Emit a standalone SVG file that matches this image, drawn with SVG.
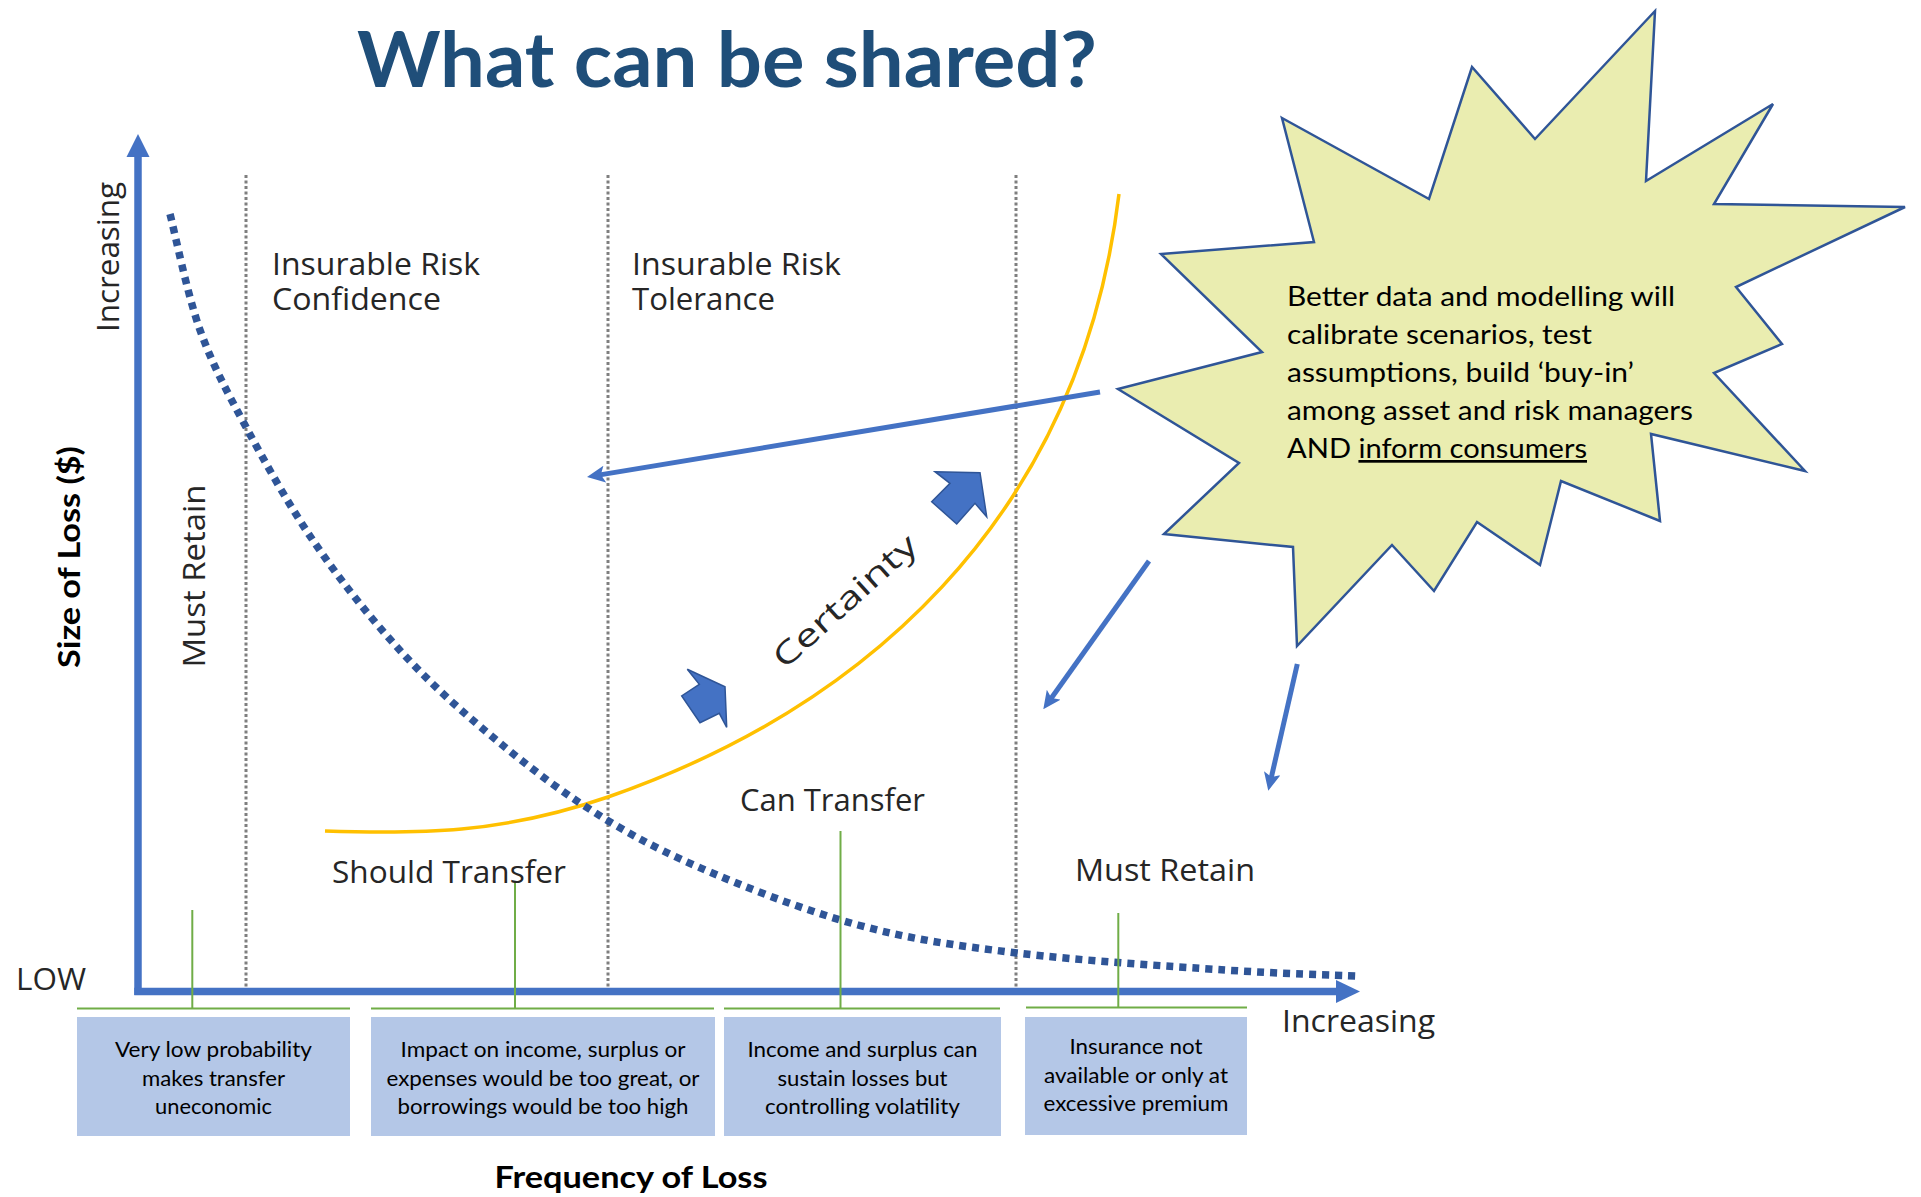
<svg xmlns="http://www.w3.org/2000/svg" width="1921" height="1197" viewBox="0 0 1921 1197">
<style>
.lbl{font-family:"Open Sans","Noto Sans","Liberation Sans",sans-serif;fill:#262626;font-size:31px}
.cal{font-family:Lato,"Liberation Sans",sans-serif;fill:#000}
.box{fill:#B4C7E7}
.bt{font-family:Lato,"Liberation Sans",sans-serif;font-size:21px;fill:#000;text-anchor:middle}
.grn{stroke:#70AD47;stroke-width:2;fill:none}
.vdot{stroke:#7F7F7F;stroke-width:3;stroke-dasharray:3 2.5;fill:none}
.blue{stroke:#4472C4;stroke-width:5;fill:none}
.blk{fill:#4472C4;stroke:#2F5597;stroke-width:1.5;stroke-linejoin:miter}
</style>
<defs>
<marker id="ah" markerUnits="userSpaceOnUse" markerWidth="18" markerHeight="17" refX="8" refY="8.5" orient="auto" viewBox="0 0 18 17">
<path d="M0,0 L18,8.5 L0,17 L4,8.5 Z" fill="#4472C4"/>
</marker>
</defs>
<rect width="1921" height="1197" fill="#fff"/>

<g id="title">
<text x="727" y="87" text-anchor="middle" font-family="Lato,'Liberation Sans',sans-serif" font-weight="700" font-size="76" fill="#1F4E79" textLength="740" lengthAdjust="spacingAndGlyphs">What can be shared?</text>
</g>

<g id="gridlines">
<line class="vdot" x1="246" y1="175" x2="246" y2="990"/>
<line class="vdot" x1="608" y1="175" x2="608" y2="990"/>
<line class="vdot" x1="1016" y1="175" x2="1016" y2="990"/>
</g>

<g id="axes">
<line x1="138" y1="995" x2="138" y2="150" stroke="#4472C4" stroke-width="7.5"/>
<polygon points="138,134 126.5,157 149.5,157" fill="#4472C4"/>
<line x1="134.3" y1="991.5" x2="1340" y2="991.5" stroke="#4472C4" stroke-width="7.5"/>
<polygon points="1360,991.5 1336,980 1336,1003" fill="#4472C4"/>
<text class="lbl" transform="translate(119,257) rotate(-90)" text-anchor="middle" textLength="150" lengthAdjust="spacingAndGlyphs">Increasing</text>
<text class="cal" transform="translate(80,557) rotate(-90)" text-anchor="middle" font-weight="700" font-size="30" textLength="222" lengthAdjust="spacingAndGlyphs">Size of Loss ($)</text>
<text class="lbl" x="16" y="990" textLength="70" lengthAdjust="spacingAndGlyphs">LOW</text>
<text class="lbl" x="1282" y="1032" textLength="153" lengthAdjust="spacingAndGlyphs">Increasing</text>
<text class="cal" x="631" y="1188" text-anchor="middle" font-weight="700" font-size="30" textLength="273" lengthAdjust="spacingAndGlyphs">Frequency of Loss</text>
</g>

<g id="curves">
<path id="certainty-curve" d="M325,831 C420,834 500,834 608,797 C858,710 1079,524 1119,194" fill="none" stroke="#FFC000" stroke-width="3.5"/>
<path id="loss-curve" d="M170,214 C175,233.3 187.3,294.5 200,330 C212.7,365.5 227.3,392.2 246,427 C264.7,461.8 288.3,504 312,539 C335.7,574 361.8,607.3 388,637 C414.2,666.7 437,689.3 469,717 C501,744.7 542.2,778.2 580,803 C617.8,827.8 649.7,845.7 696,866 C742.3,886.3 804.5,910.5 858,925 C911.5,939.5 955.8,945.5 1017,953 C1078.2,960.5 1168.3,966.2 1225,970 C1281.7,973.8 1335,975 1357,976" fill="none" stroke="#2F5597" stroke-width="7.5" stroke-dasharray="7 6"/>
</g>

<g id="zone-labels">
<text class="lbl" x="272" y="275" textLength="208" lengthAdjust="spacingAndGlyphs">Insurable Risk</text>
<text class="lbl" x="272" y="310" textLength="169" lengthAdjust="spacingAndGlyphs">Confidence</text>
<text class="lbl" x="632" y="275" textLength="209" lengthAdjust="spacingAndGlyphs">Insurable Risk</text>
<text class="lbl" x="632" y="310" textLength="143" lengthAdjust="spacingAndGlyphs">Tolerance</text>
<text class="lbl" transform="translate(205,576) rotate(-90)" text-anchor="middle" textLength="183" lengthAdjust="spacingAndGlyphs">Must Retain</text>
<text class="lbl" x="332" y="883" textLength="234" lengthAdjust="spacingAndGlyphs">Should Transfer</text>
<text class="lbl" x="740" y="811" textLength="185" lengthAdjust="spacingAndGlyphs">Can Transfer</text>
<text class="lbl" x="1075" y="881" textLength="180" lengthAdjust="spacingAndGlyphs">Must Retain</text>
<text class="lbl" transform="translate(842,598) rotate(-42)" text-anchor="middle" y="15" font-size="42" fill="#000" textLength="182" lengthAdjust="spacingAndGlyphs">Certainty</text>
</g>

<g id="block-arrows">
<polygon class="blk" points="935,471.7 980,472.7 986.7,516.7 975,503.3 956.7,524 931.7,501.7 950,483.3"/>
<polygon class="blk" points="687.3,669.3 725,686.7 726.7,727.3 719.3,713.3 700,722.7 681.7,696 699.3,684.3"/>
</g>

<g id="starburst">
<polygon points="1282,118 1429,199 1472,67 1535,139 1655,11 1646,181 1773,104 1714,204 1905,207 1736,287 1782,344 1714,373 1805,471 1651,434 1660,521 1561,481 1540,565 1477,522 1434,591 1392,545 1297,646 1293,547 1164,534 1239,463 1118,389 1262,352 1161,254 1314,242" fill="#EAEDB0" stroke="#2F5597" stroke-width="2.5" stroke-linejoin="miter"/>
<g class="cal" font-size="27">
<text x="1287" y="306" textLength="388" lengthAdjust="spacingAndGlyphs">Better data and modelling will</text>
<text x="1287" y="344" textLength="305" lengthAdjust="spacingAndGlyphs">calibrate scenarios, test</text>
<text x="1287" y="382" textLength="347" lengthAdjust="spacingAndGlyphs">assumptions, build ‘buy-in’</text>
<text x="1287" y="420" textLength="406" lengthAdjust="spacingAndGlyphs">among asset and risk managers</text>
<text x="1287" y="458" textLength="300" lengthAdjust="spacingAndGlyphs">AND <tspan style="text-decoration:underline">inform consumers</tspan></text>
</g>
</g>

<g id="connectors">
<line class="blue" x1="1100" y1="392" x2="596.9" y2="475.4" marker-end="url(#ah)"/>
<line class="blue" x1="1149" y1="561" x2="1049.1" y2="701.2" marker-end="url(#ah)"/>
<line class="blue" x1="1297.3" y1="664" x2="1270.5" y2="781" marker-end="url(#ah)"/>
</g>

<g id="box1">
<line class="grn" x1="77" y1="1008.5" x2="350" y2="1008.5"/>
<line class="grn" x1="192.3" y1="910" x2="192.3" y2="1008.5"/>
<rect class="box" x="77" y="1017" width="273" height="119"/>
<text class="bt" x="213.5" y="1056.5" textLength="197" lengthAdjust="spacingAndGlyphs">Very low probability</text>
<text class="bt" x="213.5" y="1086" textLength="143" lengthAdjust="spacingAndGlyphs">makes transfer</text>
<text class="bt" x="213.5" y="1114" textLength="117" lengthAdjust="spacingAndGlyphs">uneconomic</text>
</g>

<g id="box2">
<line class="grn" x1="371" y1="1008.5" x2="714" y2="1008.5"/>
<line class="grn" x1="515" y1="883" x2="515" y2="1008.5"/>
<rect class="box" x="371" y="1017" width="344" height="119"/>
<text class="bt" x="543" y="1056.5" textLength="285" lengthAdjust="spacingAndGlyphs">Impact on income, surplus or</text>
<text class="bt" x="543" y="1086" textLength="313" lengthAdjust="spacingAndGlyphs">expenses would be too great, or</text>
<text class="bt" x="543" y="1114" textLength="291" lengthAdjust="spacingAndGlyphs">borrowings would be too high</text>
</g>

<g id="box3">
<line class="grn" x1="724" y1="1008.5" x2="1000" y2="1008.5"/>
<line class="grn" x1="840.5" y1="831" x2="840.5" y2="1008.5"/>
<rect class="box" x="724" y="1017" width="277" height="119"/>
<text class="bt" x="862.5" y="1056.5" textLength="230" lengthAdjust="spacingAndGlyphs">Income and surplus can</text>
<text class="bt" x="862.5" y="1086" textLength="170" lengthAdjust="spacingAndGlyphs">sustain losses but</text>
<text class="bt" x="862.5" y="1114" textLength="195" lengthAdjust="spacingAndGlyphs">controlling volatility</text>
</g>

<g id="box4">
<line class="grn" x1="1026" y1="1007.5" x2="1247" y2="1007.5"/>
<line class="grn" x1="1118.3" y1="913" x2="1118.3" y2="1007.5"/>
<rect class="box" x="1025" y="1017" width="222" height="118"/>
<text class="bt" x="1136" y="1054" textLength="133" lengthAdjust="spacingAndGlyphs">Insurance not</text>
<text class="bt" x="1136" y="1083" textLength="184" lengthAdjust="spacingAndGlyphs">available or only at</text>
<text class="bt" x="1136" y="1111" textLength="185" lengthAdjust="spacingAndGlyphs">excessive premium</text>
</g>
</svg>
